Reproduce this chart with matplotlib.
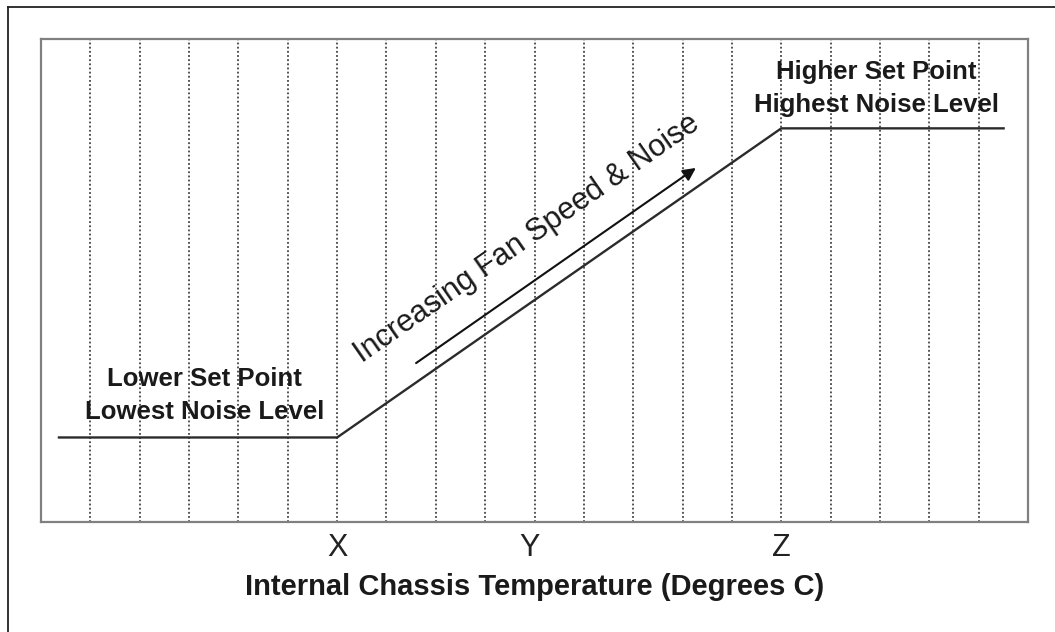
import matplotlib
matplotlib.use("Agg")
import matplotlib.pyplot as plt
from matplotlib.lines import Line2D
import numpy as np

plt.rcParams['font.family'] = ['Liberation Sans', 'DejaVu Sans']

# fan curve (x in grid units, y in % of box height)
curve_x = [0.34, 6, 15, 19.53]
curve_y = [17.5, 17.5, 81.5, 81.5]

grid_x = list(range(1, 20))

tick_pos = [6, 9.9, 15]
tick_labels = ["X", "Y", "Z"]

arrow_start = (7.6, 32.9)
arrow_end = (13.27, 73.3)

fig = plt.figure(figsize=(10.55, 6.32), dpi=100)
ax = fig.add_axes([41/1055, 110/632, 987/1055, 483/632])
ax.set_xlim(0, 20)
ax.set_ylim(0, 100)

ax.vlines(grid_x, 0, 100, colors="#444444", linestyles=(0, (1, 1.3)), linewidth=1.3)
ax.plot(curve_x, curve_y, color="#2b2b2b", linewidth=1.7, solid_capstyle="butt")

ax.annotate("", xy=arrow_end, xytext=arrow_start,
            arrowprops=dict(arrowstyle="-|>", color="#111111", lw=1.5,
                            mutation_scale=19, shrinkA=0, shrinkB=0))

# text angle follows the curve on screen
fig.canvas.draw()
p0 = ax.transData.transform((curve_x[1], curve_y[1]))
p1 = ax.transData.transform((curve_x[2], curve_y[2]))
angle = np.degrees(np.arctan2(p1[1] - p0[1], p1[0] - p0[0]))

ax.text(9.85, 58.6, "Increasing Fan Speed & Noise", fontsize=22,
        rotation=angle, rotation_mode="anchor", ha="center", va="center",
        color="#1a1a1a")

ax.text(3.32, 26.2, "Lower Set Point\nLowest Noise Level", fontsize=18.5,
        fontweight="bold", ha="center", va="center", linespacing=1.5,
        color="#1a1a1a")
ax.text(16.93, 89.8, "Higher Set Point\nHighest Noise Level", fontsize=18.5,
        fontweight="bold", ha="center", va="center", linespacing=1.5,
        color="#1a1a1a")

ax.set_xticks(tick_pos)
ax.set_xticklabels(tick_labels, fontsize=22, color="#222222")
ax.tick_params(axis="x", length=0, pad=8)
ax.set_yticks([])
ax.set_xlabel("Internal Chassis Temperature (Degrees C)", fontsize=21,
              fontweight="bold", labelpad=7, color="#1a1a1a")

for s in ax.spines.values():
    s.set_color("#808080")
    s.set_linewidth(1.6)

# outer frame (top and left only)
fig.add_artist(Line2D([8/1055, 8/1055], [0, 1 - 7/632], color="#222222", lw=1.3))
fig.add_artist(Line2D([8/1055, 1], [1 - 7/632, 1 - 7/632], color="#222222", lw=1.3))

fig.savefig("out.png", dpi=100)
